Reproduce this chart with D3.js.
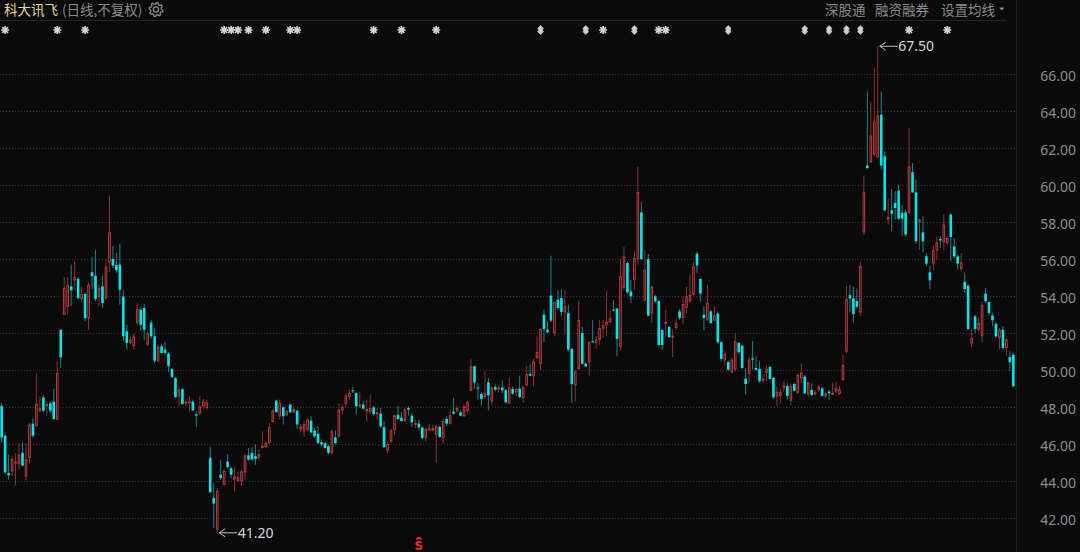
<!DOCTYPE html>
<html>
<head>
<meta charset="utf-8">
<script src="https://cdn.jsdelivr.net/npm/d3@7/dist/d3.min.js"></script>
<style>
    html, body { margin: 0; padding: 0; background: #0a0a0a; overflow: hidden; }
    svg { display: block; }
</style>
</head>
<body>
<div id="container"></div>
<script>
const title = "科大讯飞"
const subTitle = "(日线,不复权)"
const menu = ["深股通", "融资融券", "设置均线"]

// daily candles (oldest first)
const opens = [
    48.05, 46.45, 44.43, 44.52, 45.0, 44.9, 45.52, 44.25, 45.25, 47.1,
    46.96, 47.77, 48.52, 48.04, 48.2, 48.29, 47.32, 52.18, 52.99, 53.41,
    54.52, 54.85, 54.92, 53.84, 54.11, 52.8, 55.28, 55.1, 53.95, 54.52,
    53.88, 55.82, 56.0, 55.68, 55.7, 53.98, 52.09, 51.46, 51.3, 52.54,
    53.26, 53.35, 51.37, 52.56, 51.82, 50.47, 51.28, 51.1, 50.9, 50.05,
    49.57, 48.58, 48.97, 48.18, 48.22, 48.29, 47.6, 47.64, 48.04, 47.95,
    45.25, 43.08, 41.37, 44.34, 43.8, 45.05, 44.68, 44.07, 43.98, 43.98,
    44.47, 45.39, 45.52, 45.34, 45.25, 45.79, 45.84, 46.05, 47.19, 48.34,
    47.5, 47.98, 47.55, 48.13, 47.71, 47.8, 46.78, 46.69, 46.78, 47.26,
    46.72, 46.54, 46.09, 46.05, 45.88, 45.52, 46.36, 46.42, 47.82, 48.16,
    48.54, 48.9, 48.76, 48.04, 48.13, 47.77, 47.71, 47.98, 47.64, 47.64,
    46.9, 45.64, 46.15, 46.74, 47.57, 47.41, 47.24, 47.95, 47.53, 47.05,
    47.1, 46.88, 46.32, 46.78, 46.8, 46.49, 46.92, 46.33, 47.35, 47.1,
    47.75, 47.77, 47.71, 47.5, 47.78, 48.88, 50.2, 49.05, 48.7, 48.54,
    49.33, 48.29, 49.08, 48.97, 49.05, 48.9, 48.18, 48.97, 48.79, 48.99,
    48.49, 49.17, 49.78, 49.66, 50.65, 50.33, 52.99, 52.18, 54.02, 52.0,
    53.8, 53.89, 53.12, 53.08, 51.14, 49.17, 50.06, 52.0, 50.34, 50.43,
    51.55, 51.46, 51.64, 52.24, 52.42, 52.58, 53.26, 53.32, 51.24, 54.43,
    55.78, 54.25, 54.88, 56.0, 58.52, 53.75, 56.0, 53.05, 53.98, 53.73,
    52.16, 52.54, 52.33, 51.82, 52.27, 53.17, 52.81, 53.35, 53.71, 54.07,
    56.29, 54.92, 52.99, 52.72, 53.17, 52.67, 53.05, 51.5, 50.52, 50.43,
    49.88, 50.02, 51.46, 51.32, 49.53, 49.8, 50.63, 50.11, 50.06, 49.44,
    49.84, 50.16, 49.58, 48.56, 48.6, 49.01, 49.14, 48.34, 49.24, 48.77,
    49.55, 49.64, 48.7, 48.92, 48.7, 48.92, 49.01, 48.56, 48.83, 48.7,
    48.83, 48.7, 49.46, 50.99, 54.05, 53.87, 53.73, 53.1, 57.44, 61.05,
    61.23, 61.64, 61.5, 63.8, 61.55, 58.13, 58.63, 59.03, 59.69, 58.49,
    58.52, 58.49, 60.69, 59.6, 57.98, 57.44, 56.14, 55.28, 55.75, 56.47,
    57.08, 56.9, 56.86, 58.4, 56.68, 56.14, 55.46, 54.76, 54.56, 51.43,
    52.9, 52.18, 51.82, 54.13, 53.67, 52.94, 52.5, 51.73, 52.18, 51.19,
    50.7, 50.83
]
const closes = [
    46.35, 44.47, 44.31, 45.19, 45.05, 45.43, 44.83, 45.16, 47.05, 46.45,
    48.16, 47.95, 47.8, 48.16, 47.79, 47.35, 49.84, 50.69, 54.43, 54.58,
    54.31, 55.03, 53.89, 54.11, 52.8, 54.61, 55.07, 53.84, 54.43, 53.62,
    55.6, 57.44, 55.64, 55.39, 54.34, 51.82, 51.46, 51.64, 51.82, 53.3,
    52.45, 52.18, 52.0, 51.82, 50.5, 51.25, 50.92, 50.92, 50.2, 49.62,
    48.54, 48.94, 48.16, 48.29, 48.31, 47.82, 47.53, 48.04, 48.29, 48.25,
    43.39, 42.78, 43.48, 44.16, 44.56, 44.76, 44.34, 44.25, 44.22, 44.52,
    45.39, 45.16, 45.16, 45.19, 45.46, 45.9, 46.05, 46.92, 47.82, 47.73,
    48.22, 47.5, 47.77, 47.71, 47.89, 47.05, 46.96, 47.08, 47.32, 46.63,
    46.42, 46.05, 45.97, 45.79, 45.52, 46.69, 46.05, 47.86, 48.0, 48.63,
    48.76, 48.87, 48.04, 48.13, 47.91, 47.89, 47.95, 47.62, 47.71, 46.96,
    45.84, 46.0, 46.74, 47.55, 47.35, 47.24, 47.86, 47.86, 47.17, 47.14,
    46.9, 46.32, 46.81, 46.83, 46.85, 46.96, 46.38, 47.23, 47.1, 47.55,
    47.64, 47.95, 47.53, 48.04, 48.27, 50.2, 49.33, 49.01, 48.43, 48.76,
    48.63, 49.06, 48.94, 49.06, 48.9, 48.25, 49.06, 48.72, 48.97, 48.54,
    49.08, 49.78, 49.69, 50.47, 50.97, 52.22, 52.22, 52.04, 52.67, 53.68,
    53.35, 53.14, 53.44, 51.1, 49.24, 49.91, 52.69, 50.34, 50.2, 51.5,
    51.5, 51.64, 52.27, 52.42, 52.6, 52.79, 53.21, 51.68, 55.06, 56.14,
    54.2, 53.98, 56.05, 59.62, 56.0, 55.42, 52.94, 54.5, 53.71, 51.35,
    51.35, 52.6, 51.78, 51.86, 52.54, 52.81, 53.57, 53.98, 54.07, 55.6,
    55.64, 54.13, 52.81, 53.62, 52.54, 52.94, 51.5, 50.6, 50.88, 50.02,
    50.56, 51.55, 50.96, 50.11, 49.24, 50.56, 50.56, 50.02, 49.39, 49.53,
    50.07, 49.51, 48.52, 48.83, 48.8, 49.19, 48.6, 49.14, 48.88, 49.73,
    49.86, 48.74, 49.32, 48.65, 48.79, 49.1, 48.6, 48.74, 48.74, 48.77,
    49.01, 48.95, 50.27, 53.82, 53.87, 53.03, 53.42, 55.62, 59.6, 60.92,
    62.67, 63.44, 63.75, 61.05, 58.63, 58.27, 58.45, 58.76, 58.18, 58.18,
    57.32, 61.01, 59.6, 56.96, 58.13, 56.96, 55.75, 54.85, 56.47, 56.9,
    57.0, 57.86, 57.14, 57.19, 56.14, 55.75, 55.82, 54.38, 52.22, 51.73,
    52.22, 52.54, 53.53, 53.71, 53.08, 52.69, 51.82, 52.18, 51.19, 51.64,
    50.42, 49.12
]
const highs = [
    48.2, 46.5, 45.43, 45.34, 45.5, 46.05, 46.09, 46.02, 47.14, 47.41,
    49.8, 48.58, 48.67, 48.31, 48.31, 48.99, 50.47, 52.22, 55.03, 55.03,
    55.7, 55.91, 55.03, 54.49, 54.2, 54.74, 56.11, 56.5, 54.61, 55.1,
    56.0, 59.43, 56.72, 56.33, 56.83, 54.34, 52.45, 51.86, 51.95, 53.59,
    53.35, 53.57, 52.09, 52.72, 52.27, 51.37, 51.43, 51.5, 50.96, 50.11,
    49.6, 49.12, 49.01, 48.4, 48.58, 48.4, 47.77, 48.58, 48.43, 48.4,
    45.82, 43.89, 43.62, 45.12, 44.61, 45.43, 44.79, 44.79, 44.52, 44.65,
    45.43, 45.79, 45.82, 45.97, 45.7, 46.69, 46.15, 47.14, 47.86, 48.4,
    48.4, 48.04, 47.86, 48.16, 48.04, 47.86, 47.08, 47.23, 47.41, 47.5,
    46.87, 46.96, 46.24, 46.09, 45.97, 46.78, 46.74, 48.22, 48.13, 48.76,
    48.94, 49.08, 48.79, 48.79, 48.31, 48.4, 48.67, 48.07, 47.95, 47.95,
    47.23, 46.15, 46.81, 47.59, 48.07, 47.73, 47.95, 48.04, 47.68, 47.32,
    47.32, 46.96, 46.87, 47.05, 47.05, 47.05, 46.99, 47.35, 47.5, 47.89,
    48.49, 48.07, 47.8, 48.13, 48.31, 50.61, 50.24, 49.3, 48.79, 49.93,
    49.57, 49.12, 49.21, 49.21, 49.44, 48.97, 49.57, 49.12, 49.03, 49.69,
    49.17, 50.2, 50.29, 50.6, 51.82, 52.27, 53.26, 52.63, 56.18, 53.71,
    54.31, 54.38, 54.31, 53.53, 51.19, 50.02, 53.77, 52.33, 50.42, 51.55,
    52.69, 51.82, 52.72, 52.72, 54.29, 53.26, 53.77, 53.35, 56.0, 56.65,
    55.87, 54.88, 56.42, 60.97, 59.08, 56.5, 56.27, 54.56, 54.07, 53.77,
    52.22, 53.23, 52.36, 52.18, 52.72, 53.3, 53.98, 54.49, 55.16, 55.82,
    56.41, 54.97, 53.44, 54.61, 53.26, 53.44, 53.17, 51.55, 51.01, 50.52,
    50.65, 52.0, 51.5, 51.37, 50.11, 50.7, 51.55, 50.74, 50.47, 49.75,
    50.23, 50.23, 49.62, 49.1, 49.0, 49.37, 49.28, 49.28, 49.32, 49.82,
    50.36, 49.73, 49.37, 49.28, 48.92, 49.19, 49.1, 48.83, 48.92, 49.32,
    49.37, 49.14, 50.81, 54.54, 54.6, 54.5, 54.41, 55.86, 60.5, 65.06,
    64.52, 66.32, 67.5, 65.06, 61.82, 59.24, 59.78, 59.66, 60.02, 58.94,
    58.67, 63.08, 61.19, 60.29, 58.16, 58.31, 56.32, 55.64, 56.72, 57.26,
    57.23, 58.4, 57.23, 58.49, 57.14, 56.23, 56.32, 55.24, 54.61, 52.22,
    52.99, 52.81, 53.71, 54.43, 53.71, 53.08, 52.58, 52.27, 52.36, 51.73,
    51.01, 50.92
]
const lows = [
    46.05, 44.35, 44.07, 44.29, 43.75, 44.6, 44.8, 44.04, 44.94, 46.33,
    46.96, 47.71, 47.71, 47.5, 47.71, 47.32, 47.28, 50.11, 52.99, 52.99,
    53.44, 54.34, 53.8, 53.62, 52.63, 52.18, 54.38, 53.71, 53.44, 53.35,
    53.8, 55.28, 55.52, 55.25, 53.53, 51.55, 51.1, 51.37, 51.1, 52.4,
    52.09, 51.6, 51.28, 51.68, 50.38, 50.42, 50.88, 50.83, 49.87, 49.57,
    48.49, 48.04, 48.13, 48.07, 47.77, 47.77, 46.92, 47.59, 47.89, 47.86,
    43.35, 41.46, 41.2, 44.07, 43.75, 44.65, 44.16, 43.44, 43.98, 43.71,
    44.07, 45.07, 45.12, 44.88, 45.16, 45.77, 45.79, 45.97, 47.17, 47.68,
    47.32, 47.05, 47.5, 47.68, 47.68, 46.81, 46.63, 46.42, 46.69, 46.6,
    46.33, 46.02, 45.88, 45.75, 45.43, 45.43, 45.97, 46.33, 47.59, 47.95,
    48.4, 48.76, 47.59, 47.95, 47.86, 47.23, 47.59, 47.53, 47.32, 46.87,
    45.78, 45.51, 46.06, 46.51, 47.32, 47.21, 47.19, 47.53, 46.92, 46.87,
    46.78, 46.27, 46.15, 46.69, 46.69, 45.01, 46.33, 46.02, 46.96, 47.05,
    47.59, 47.71, 47.5, 47.46, 47.71, 48.85, 48.99, 48.4, 48.07, 48.43,
    47.82, 48.13, 48.85, 48.76, 48.76, 48.18, 48.16, 48.67, 48.58, 48.49,
    48.22, 49.12, 49.66, 49.12, 50.56, 50.02, 51.5, 52.0, 52.58, 51.82,
    53.26, 52.9, 51.91, 51.01, 48.22, 48.31, 49.98, 50.29, 50.16, 49.69,
    51.46, 51.15, 51.37, 51.73, 51.82, 52.54, 53.17, 50.74, 51.06, 54.34,
    54.13, 53.62, 54.34, 55.69, 55.96, 53.71, 52.9, 52.54, 53.62, 51.32,
    51.1, 51.82, 51.73, 50.7, 52.15, 52.7, 52.5, 53.08, 53.62, 54.02,
    55.24, 53.71, 52.15, 52.63, 52.5, 52.63, 51.42, 50.47, 50.24, 49.93,
    49.84, 49.93, 50.88, 50.06, 48.67, 49.3, 50.02, 49.93, 49.3, 49.3,
    49.39, 49.48, 48.45, 48.05, 48.2, 48.83, 48.4, 48.11, 48.83, 48.7,
    49.28, 48.7, 48.56, 48.6, 48.65, 48.83, 48.56, 48.47, 48.4, 48.65,
    48.74, 48.65, 49.42, 50.9, 53.15, 52.56, 53.33, 52.92, 57.32, 60.87,
    61.19, 61.55, 61.46, 60.83, 58.58, 57.86, 57.5, 58.13, 58.13, 57.26,
    57.23, 58.45, 59.57, 56.83, 56.5, 56.36, 55.64, 54.38, 55.39, 55.96,
    56.6, 56.5, 56.77, 55.87, 56.05, 55.42, 55.33, 54.16, 52.15, 51.24,
    52.0, 52.09, 51.5, 53.62, 52.99, 52.36, 51.73, 51.1, 51.1, 50.74,
    49.93, 49.08
]

const yTicks = [42, 44, 46, 48, 50, 52, 54, 56, 58, 60, 62, 64, 66]

// event marks on the top row (candle index), and the one at the bottom
const starMarks = [1, 16, 24, 64, 66, 68, 71, 76, 83, 85, 107, 115, 125, 173, 189, 191, 261, 272]
const arrowMarks = [155, 168, 182, 209, 231, 238, 243, 247]
const sMarks = [120]

const width = 1080, height = 552
const plotRight = 1016

const up = { body: "#1a0808", line: "#b83b3b", wick: "#8e2f2f" }
const down = { body: "#00e6ea", wick: "#12868a" }

const svg = d3.select("div#container")
    .append("svg")
    .attr("width", width)
    .attr("height", height)
    .style("font-family", "'Noto Sans', 'Noto Sans CJK SC', sans-serif")

svg.append("rect")
    .attr("width", width)
    .attr("height", height)
    .attr("fill", "#0a0a0a")

const x = d3.scaleBand()
    .domain(d3.range(opens.length))
    .range([0, 1015])
    .paddingInner(0.25)
    .paddingOuter(0.1)

const y = d3.scaleLinear()
    .domain([42, 66])
    .range([518, 74])

const cx = i => x(i) + x.bandwidth() / 2

// header
svg.append("line")
    .attr("x1", 0).attr("x2", 1006)
    .attr("y1", 20.5).attr("y2", 20.5)
    .attr("stroke", "#232323")

svg.append("line")
    .attr("x1", plotRight + 0.5).attr("x2", plotRight + 0.5)
    .attr("y1", 0).attr("y2", height)
    .attr("stroke", "#1e1e1e")

svg.append("text")
    .attr("x", 4).attr("y", 15)
    .style("font-family", "'Noto Sans CJK SC'")
    .style("font-size", "13.5px")
    .attr("fill", "#e2d68e")
    .text(title)

svg.append("text")
    .attr("x", 62).attr("y", 15)
    .style("font-family", "'Noto Sans CJK SC'")
    .style("font-size", "13.5px")
    .attr("fill", "#8a8a8a")
    .text(subTitle)

// gear
const gear = d3.range(33).map(k => {
    const a = k * Math.PI * 2 / 32
    const r = Math.floor(k / 2) % 2 === 0 ? 7 : 5.4
    return [156 + r * Math.cos(a + 0.1), 9.5 + r * Math.sin(a + 0.1)]
})
svg.append("path")
    .attr("d", d3.line()(gear))
    .attr("fill", "none")
    .attr("stroke", "#8a8a8a")
    .attr("stroke-width", 1.3)
svg.append("circle")
    .attr("cx", 156).attr("cy", 9.5).attr("r", 2.6)
    .attr("fill", "none")
    .attr("stroke", "#8a8a8a")
    .attr("stroke-width", 1.3)

const menuX = [825, 875, 941]
svg.selectAll("text.menu")
    .data(menu)
    .join("text")
    .attr("class", "menu")
    .attr("x", (d, i) => menuX[i])
    .attr("y", 14.5)
    .style("font-family", "'Noto Sans CJK SC'")
    .style("font-size", "13.5px")
    .attr("fill", "#8a8a8a")
    .text(d => d)

svg.append("path")
    .attr("d", "M999,7.5H1004.5L1001.75,10.5Z")
    .attr("fill", "#8a8a8a")

// grid
svg.append("g")
    .selectAll("line")
    .data(yTicks)
    .join("line")
    .attr("x1", 0).attr("x2", plotRight)
    .attr("y1", d => Math.round(y(d)) + 0.5)
    .attr("y2", d => Math.round(y(d)) + 0.5)
    .attr("stroke", "#343434")
    .attr("stroke-dasharray", "1,2")

const axis = svg.append("g")
    .attr("transform", "translate(1076,2.5)")
    .call(d3.axisLeft(y).tickValues(yTicks).tickSize(0).tickPadding(0).tickFormat(d3.format(".2f")))
axis.select(".domain").remove()
axis.selectAll("text")
    .attr("fill", "#8c8c8c")
    .style("font-size", "14px")
    .style("font-family", "'Noto Sans'")

// candles
const k = svg.append("g")
    .selectAll("g")
    .data(d3.range(opens.length))
    .join("g")

k.append("line")
    .attr("x1", i => cx(i)).attr("x2", i => cx(i))
    .attr("y1", i => y(highs[i]))
    .attr("y2", i => y(lows[i]))
    .attr("stroke", i => closes[i] >= opens[i] ? up.wick : down.wick)
    .attr("stroke-width", 1)

k.append("rect")
    .attr("x", i => closes[i] >= opens[i] ? x(i) + 0.5 : x(i))
    .attr("y", i => y(Math.max(opens[i], closes[i])) + (closes[i] >= opens[i] ? 0.5 : 0))
    .attr("width", i => closes[i] >= opens[i] ? x.bandwidth() - 1 : x.bandwidth())
    .attr("height", i => Math.max(1, Math.abs(y(opens[i]) - y(closes[i])) - (closes[i] >= opens[i] ? 1 : 0)))
    .attr("fill", i => closes[i] >= opens[i] ? up.body : down.body)
    .attr("stroke", i => closes[i] >= opens[i] ? up.line : "none")
    .attr("stroke-width", 1)

// highest / lowest labels
function extremeLabel(i, v) {
    const x0 = cx(i) + 2, y0 = y(v)
    svg.append("path")
        .attr("d", `M${x0 + 18},${y0}H${x0}M${x0 + 6},${y0 - 4}L${x0},${y0}L${x0 + 6},${y0 + 4}`)
        .attr("fill", "none")
        .attr("stroke", "#bdbdbd")
        .attr("stroke-width", 1)
    svg.append("text")
        .attr("x", x0 + 18.5)
        .attr("y", y0)
        .attr("dy", "0.35em")
        .attr("fill", "#d6d6d6")
        .style("font-size", "14px")
        .text(d3.format(".2f")(v))
}
const hiI = d3.maxIndex(highs), loI = d3.minIndex(lows)
extremeLabel(hiI, highs[hiI])
extremeLabel(loI, lows[loI])

// top row marks
const star = svg.append("g")
    .selectAll("g")
    .data(starMarks)
    .join("g")
    .attr("transform", i => `translate(${cx(i)},30)`)
star.append("path")
    .attr("d", "M-4,0H4M0,-4V4M-2.9,-2.9L2.9,2.9M-2.9,2.9L2.9,-2.9")
    .attr("stroke", "#d2d2d2")
    .attr("stroke-width", 1.7)
star.append("circle")
    .attr("r", 2)
    .attr("fill", "#d2d2d2")

svg.append("g")
    .selectAll("path")
    .data(arrowMarks)
    .join("path")
    .attr("transform", i => `translate(${cx(i)},30)`)
    .attr("d", "M0,-4.5L3,-1.6H2.2V1.6H3L0,4.5L-3,1.6H-2.2V-1.6H-3Z")
    .attr("fill", "#cfcfcf")
    .attr("stroke", "#cfcfcf")
    .attr("stroke-width", 0.6)

const s = svg.append("g")
    .selectAll("g")
    .data(sMarks)
    .join("g")
    .attr("transform", i => `translate(${cx(i)},0)`)
s.append("path")
    .attr("d", "M-3,539.5A3,2.6 0 0 1 3,539.5Z")
    .attr("fill", "#ff2424")
s.append("text")
    .attr("y", 549.5)
    .attr("text-anchor", "middle")
    .attr("fill", "#ff2424")
    .style("font-size", "12px")
    .style("font-weight", "bold")
    .style("font-family", "'DejaVu Sans'")
    .text("S")
</script>
</body>
</html>
